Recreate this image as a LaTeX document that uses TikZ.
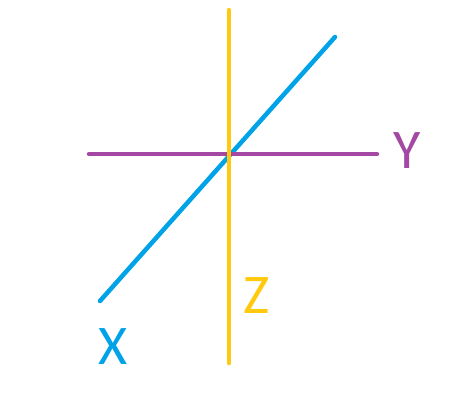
\documentclass[tikz,border=0pt]{standalone}
\usepackage{fontspec}
\setmainfont{Carlito}
\definecolor{axblue}{RGB}{0,162,232}
\definecolor{axpurple}{RGB}{163,73,164}
\definecolor{axyellow}{RGB}{255,201,14}
\begin{document}
\begin{tikzpicture}[x=1pt,y=-1pt,
  axis/.style={line width=4.5pt,line cap=round},
  lab/.style={inner sep=0pt,font=\fontsize{56}{56}\selectfont}]
\useasboundingbox (0,0) rectangle (456,418);
\coordinate (xa) at (100,301);
\coordinate (xb) at (335,37);
\coordinate (ya) at (89,154);
\coordinate (yb) at (377,154);
\coordinate (za) at (229,10);
\coordinate (zb) at (229,363);
\draw[axis,axblue] (xa) -- (xb);
\draw[axis,axpurple] (ya) -- (yb);
\draw[axis,axyellow] (za) -- (zb);
\node[lab,text=axblue] (lx) at (113,347) {X};
\node[lab,text=axpurple] (ly) at (407,151) {Y};
\node[lab,text=axyellow] (lz) at (257,296) {Z};
\end{tikzpicture}
\end{document}
